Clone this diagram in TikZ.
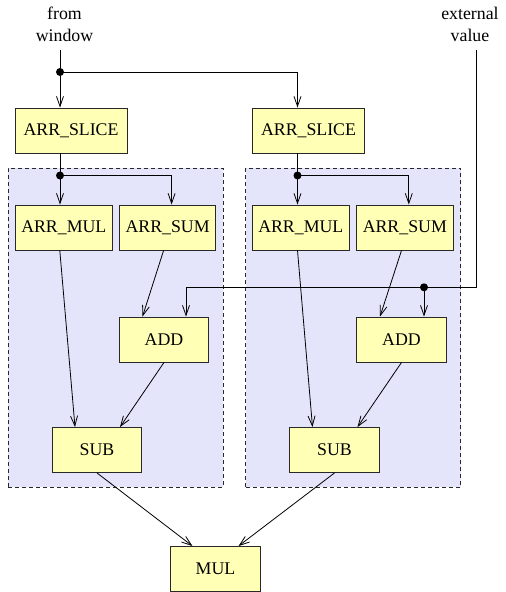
\documentclass[tikz,border=0pt]{standalone}
\usepackage{fontspec}
\setmainfont{Liberation Serif}
\usetikzlibrary{arrows.meta}
\definecolor{boxfill}{RGB}{255,255,181}
\definecolor{clusterfill}{RGB}{228,228,250}
\definecolor{edgegray}{RGB}{40,40,40}
\tikzset{
  opbox/.style={draw=edgegray, fill=boxfill, line width=0.9pt, inner sep=0pt, minimum height=45pt,
    font=\fontsize{17.8}{21}\selectfont},
  cluster/.style={draw=edgegray, fill=clusterfill, line width=0.9pt, dash pattern=on 4pt off 3pt, inner sep=0pt},
  arr/.style={-{Straight Barb[length=10pt,width=7pt]}, line width=0.8pt},
  wire/.style={line width=0.8pt},
  junction/.style={circle, fill=black, inner sep=0pt, minimum size=8pt},
  lbl/.style={align=center, inner sep=0pt, font=\fontsize{17.8}{22.5}\selectfont}
}
\begin{document}
\begin{tikzpicture}[x=1pt,y=-1pt]
\useasboundingbox (0,0) rectangle (506,592);
% clusters
\node[cluster, minimum width=215pt, minimum height=319pt] (clL) at (115.5,327.5) {};
\node[cluster, minimum width=215pt, minimum height=319pt] (clR) at (353.3,327.5) {};
% labels
\node[lbl, anchor=base] (fw) at (64.5,41.5) {from\\window};
\node[lbl, anchor=base] (ev) at (470,41.5) {external\\value};
\coordinate (fwTop) at (60,50);
\coordinate (evTop) at (476,50);
% boxes
\node[opbox, minimum width=112pt] (sliceL) at (71,130.5) {ARR\_SLICE};
\node[opbox, minimum width=112pt] (sliceR) at (308.5,130.5) {ARR\_SLICE};
\node[opbox, minimum width=96.5pt] (mulL) at (63.8,227.5) {ARR\_MUL};
\node[opbox, minimum width=96.5pt] (sumL) at (167.6,227.5) {ARR\_SUM};
\node[opbox, minimum width=96.5pt] (mulR) at (300.8,227.5) {ARR\_MUL};
\node[opbox, minimum width=96.5pt] (sumR) at (404.8,227.5) {ARR\_SUM};
\node[opbox, minimum width=89.5pt] (addL) at (164,339.5) {ADD};
\node[opbox, minimum width=89.5pt] (addR) at (401.5,339.5) {ADD};
\node[opbox, minimum width=89.5pt] (subL) at (97,450) {SUB};
\node[opbox, minimum width=89.5pt] (subR) at (334.5,450) {SUB};
\node[opbox, minimum width=89.5pt] (mulN) at (215.5,569) {MUL};
% junctions
\node[junction] (dot0) at (60,72) {};
\node[junction] (dotL) at (60,175.5) {};
\node[junction] (dotR) at (297.5,175.5) {};
\node[junction] (dotE) at (424,287.3) {};
\coordinate (addLin) at ([xshift=22pt]addL.north);
% connectors
\draw[wire] (fwTop) -- (dot0.center);
\draw[arr] (dot0.center) -- (dot0 |- sliceL.north);
\draw[arr] (dot0.center) -| ([xshift=-11pt]sliceR.north);
\draw[wire] (dotL |- sliceL.south) -- (dotL.center);
\draw[arr] (dotL.center) -- (dotL |- mulL.north);
\draw[arr] (dotL.center) -| ([xshift=4pt]sumL.north);
\draw[wire] (dotR |- sliceR.south) -- (dotR.center);
\draw[arr] (dotR.center) -- (dotR |- mulR.north);
\draw[arr] (dotR.center) -| ([xshift=4pt]sumR.north);
\draw[arr] (evTop) |- (addLin |- dotE) -- (addLin);
\draw[arr] (dotE.center) -- (dotE |- addR.north);
\draw[arr] ([xshift=-4pt]mulL.south) -- ([xshift=-22pt]subL.north);
\draw[arr] ([xshift=-4pt]sumL.south) -- ([xshift=-21.5pt]addL.north);
\draw[arr] (addL.south) -- ([xshift=23pt]subL.north);
\draw[arr] ([xshift=-3.3pt]mulR.south) -- ([xshift=-22pt]subR.north);
\draw[arr] ([xshift=-3.3pt]sumR.south) -- ([xshift=-21.5pt]addR.north);
\draw[arr] (addR.south) -- ([xshift=23pt]subR.north);
\draw[arr] (subL.south) -- ([xshift=-23pt]mulN.north);
\draw[arr] (subR.south) -- ([xshift=23pt]mulN.north);
\end{tikzpicture}
\end{document}
